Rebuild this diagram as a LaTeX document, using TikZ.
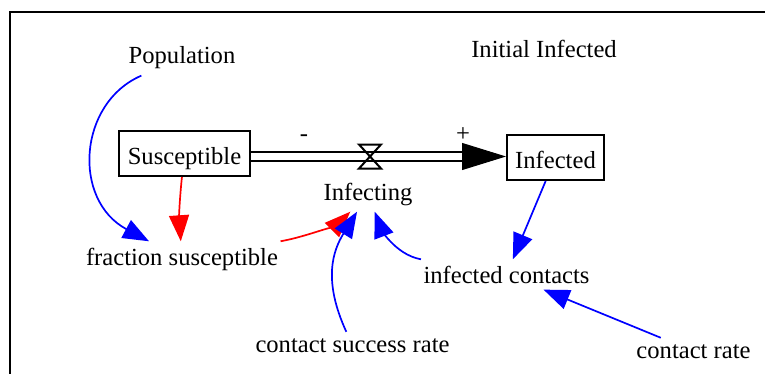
\documentclass[tikz,border=0pt]{standalone}
\usepackage{fontspec}
\setmainfont{Liberation Serif}
\usetikzlibrary{arrows.meta}
\tikzset{basic/.style={font=\fontsize{12.3}{14}\selectfont}}
\tikzset{stock/.style={basic,draw,line width=1pt,minimum height=22.5pt,
                       inner sep=0pt,text height=1.05em,text depth=0pt}}
\tikzset{auxvar/.style={basic,anchor=base,inner sep=3pt}}
\tikzset{polarity/.style={basic,anchor=base,inner sep=0pt}}
\tikzset{pipe/.style={double,line width=1pt,double distance=3.2pt}}
\tikzset{flowtip/.style={-{Triangle[length=22pt,width=13.5pt]},line width=0.5pt}}
\tikzset{infolink/.style={line width=0.85pt,-{Triangle[length=13pt,width=10pt]}}}
\newcommand{\valvesymbol}{\draw[line width=1pt] (-5.5pt,6pt) -- (5.5pt,6pt) --
                          (-5.5pt,-6pt) -- (5.5pt,-6pt) -- cycle;}

\begin{document}
\begin{tikzpicture}[x=0.5pt,y=-0.5pt]
        \useasboundingbox (0,0) rectangle (765,374);
        \draw[line width=1pt] (9.5,380) -- (9.5,12.5) -- (775,12.5);
        % Stocks
        \node[stock,minimum width=65.5pt] (susc) at (184.5,153.5) {Susceptible};
        \node[stock,minimum width=48.5pt] (infd) at (555.5,157.5) {Infected};
        % Flow
        \node[inner sep=0pt,minimum size=12pt] (valve) at (370,156.5) {};
        \draw[pipe,shorten >=21pt] (valve -| susc.east) -- (valve -| infd.west);
        \draw[flowtip] (valve -| infd.west) ++(-22pt,0) -- (valve -| infd.west);
           \begin{scope}[shift={(valve.center)}]
             \valvesymbol
           \end{scope}
        \node[polarity] (minus) at (304,141) {-};
        \node[polarity] (plus) at (463,141) {+};
        % Variables
        \node[auxvar] (pop) at (182,64) {Population};
        \node[auxvar] (init) at (544,58) {Initial Infected};
        \node[auxvar] (infing) at (368,200) {Infecting};
        \node[auxvar] (frac) at (182,265) {fraction susceptible};
        \node[auxvar] (csr) at (352.5,352) {contact success rate};
        \node[auxvar] (icon) at (506.5,283) {infected contacts};
        \node[auxvar] (crate) at (693.5,358) {contact rate};
        % Links
        \draw[infolink,blue] (pop) .. controls (78,103) and (72,200) .. (frac);
        \draw[infolink,red] (susc) .. controls (180,195) and (179,215) .. (frac);
        \draw[infolink,red] (frac) .. controls (310,236) and (340,222) .. (infing);
        \draw[infolink,blue] (csr) .. controls (322.5,280) and (333,250.5) .. (infing);
        \draw[infolink,blue] (icon) .. controls (394,254.5) and (380,225.6) .. (infing);
        \draw[infolink,blue] (infd) -- (icon);
        \draw[infolink,blue] (crate) -- (icon);
\end{tikzpicture}
\end{document}
